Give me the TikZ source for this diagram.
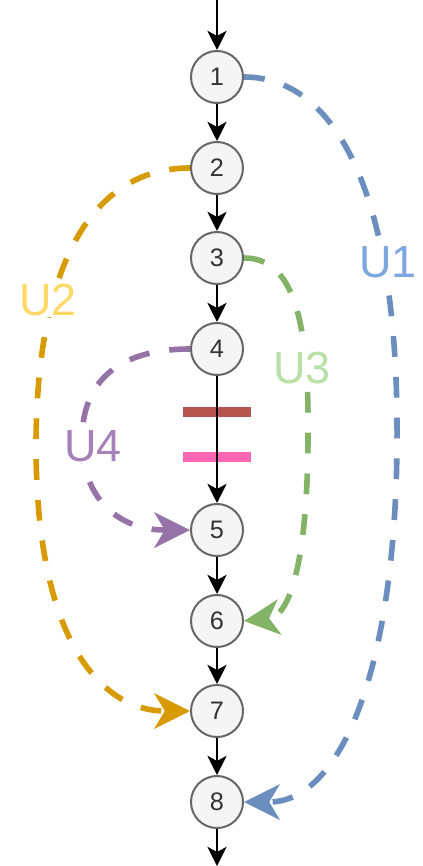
\documentclass[tikz,border=0pt]{standalone}
\usepackage{fontspec}
\setmainfont{Liberation Sans}
\usetikzlibrary{arrows.meta}
\definecolor{nodefill}{HTML}{F5F5F5}
\definecolor{nodegray}{HTML}{666666}
\definecolor{nodetext}{HTML}{333333}
\definecolor{loopblue}{HTML}{6C8EBF}
\definecolor{looporange}{HTML}{D79B00}
\definecolor{loopgreen}{HTML}{82B366}
\definecolor{looppurple}{HTML}{9673A6}
\definecolor{labelblue}{HTML}{7EA6E0}
\definecolor{labelorange}{HTML}{FFD966}
\definecolor{labelgreen}{HTML}{B9E0A5}
\definecolor{labelpurple}{HTML}{A680B8}
\definecolor{barred}{HTML}{B85450}
\definecolor{barpink}{HTML}{FF66B3}

\begin{document}
\begin{tikzpicture}[x=0.025cm,y=-0.025cm,
    state/.style={circle,draw=nodegray,fill=nodefill,line width=0.05cm,minimum size=1.3cm,inner sep=0pt,text=nodetext,font=\fontsize{18}{20}\selectfont},
    flow/.style={line width=0.05cm,-{Stealth[length=0.48cm,width=0.48cm,inset=0.13cm]}},
    loop/.style={line width=0.14cm,dash pattern=on 0.52cm off 0.5cm,-{Stealth[length=0.9cm,width=0.9cm,inset=0.27cm,line width=0pt]}},
    looplabel/.style={fill=white,inner sep=1pt,font=\fontsize{32}{36}\selectfont},
    bar/.style={line width=0.27cm}]
  \useasboundingbox (0,0) rectangle (422,866);

  % chain of states
  \foreach \i/\y in {1/77,2/168,3/258,4/349,5/530,6/621,7/711,8/802}
    \node[state] (n\i) at (217,\y) {\i};
  \coordinate (in) at (217,0);
  \coordinate (out) at (217,866);

  % cut marks between 4 and 5
  \draw[bar,barred] (183,412) -- (251,412);
  \draw[bar,barpink] (183,457) -- (251,457);

  \draw[flow] (in) -- (n1);
  \foreach \a/\b in {1/2,2/3,3/4,4/5,5/6,6/7,7/8}
    \draw[flow] (n\a) -- (n\b);
  \draw[flow] (n8) -- (out);

  % the four jumps
  \draw[loop,loopblue] (n1.east) .. controls (330,77) and (395,180) .. (397,420) .. controls (399,670) and (340,802) .. (n8.east);
  \draw[loop,looporange] (n2.west) .. controls (100,168) and (38,250) .. (36,440) .. controls (35,655) and (110,711) .. (n7.west);
  \draw[loop,loopgreen] (n3.east) .. controls (285,258) and (308,300) .. (308,420) .. controls (309,560) and (290,616) .. (n6.east);
  \draw[loop,looppurple] (n4.west) .. controls (120,349) and (82,380) .. (82,440) .. controls (82,500) and (120,530) .. (n5.west);

  \node[looplabel,text=labelblue] (u1) at (388,262) {U1};
  \node[looplabel,text=labelorange] (u2) at (48,300) {U2};
  \node[looplabel,text=labelgreen] (u3) at (302,368) {U3};
  \node[looplabel,text=labelpurple] (u4) at (93,446) {U4};
\end{tikzpicture}
\end{document}
